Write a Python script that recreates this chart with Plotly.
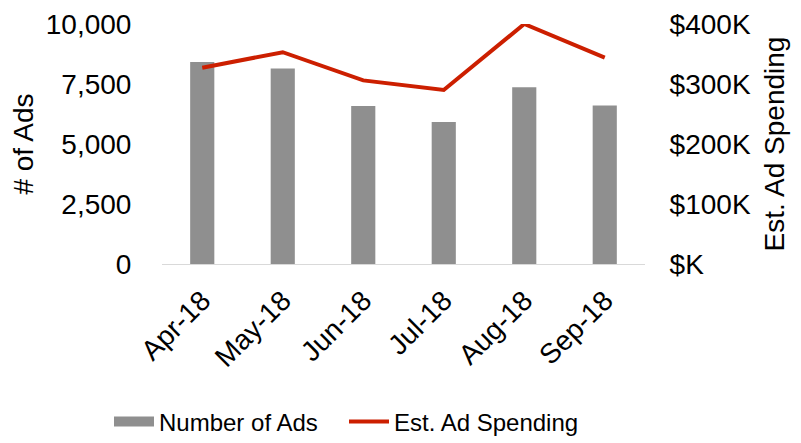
import plotly.graph_objects as go

months = ["Apr-18", "May-18", "Jun-18", "Jul-18", "Aug-18", "Sep-18"]
num_ads = [8420, 8150, 6580, 5920, 7360, 6600]
ad_spending = [327000, 353000, 306000, 290000, 400000, 344000]
left_ticks = [0, 2500, 5000, 7500, 10000]
right_ticks = [0, 100000, 200000, 300000, 400000]
right_ticktext = ["$K", "$100K", "$200K", "$300K", "$400K"]

FONT = "Liberation Sans, Arial, sans-serif"
CLEAR = "rgba(0,0,0,0)"
GRAY = "#8f8f8f"
RED = "#cc1f00"

# page body has an 8px margin, so the figure is drawn 8px in from the top-left
W, H = 793, 435

fig = go.Figure()
fig.add_trace(go.Bar(x=months, y=num_ads, name="Number of Ads", showlegend=False,
                     marker=dict(color=GRAY, line=dict(width=0)), yaxis="y"))
# legend-only entry to get a wide rectangular swatch for the bars
fig.add_trace(go.Scatter(x=[None], y=[None], name="Number of Ads", mode="lines",
                         line=dict(color=GRAY, width=15), yaxis="y"))
fig.add_trace(go.Scatter(x=months, y=ad_spending, name="Est. Ad Spending", mode="lines",
                         line=dict(color=RED, width=4), yaxis="y2"))

fig.update_layout(
    width=W, height=H,
    margin=dict(l=154, r=156, t=16, b=179),
    paper_bgcolor="white", plot_bgcolor="white",
    font=dict(family=FONT, size=28, color="#000000"),
    bargap=0.7,
    showlegend=True,
    legend=dict(orientation="h", xref="container", yref="container",
                x=101 / W, xanchor="left", y=1 - 414 / H, yanchor="middle",
                font=dict(size=24), itemwidth=40, entrywidth=180, entrywidthmode="pixels",
                traceorder="normal"),
    xaxis=dict(showgrid=False, showline=True, linecolor="#d9d9d9", linewidth=1,
               tickangle=-45, ticks="outside", ticklen=8, tickcolor=CLEAR,
               tickfont=dict(size=28), automargin=False),
    yaxis=dict(range=[0, 10000], tickvals=left_ticks, tickformat=",", showgrid=False,
               zeroline=False, showline=False, ticks="outside", ticklen=24, tickcolor=CLEAR,
               automargin=False,
               title=dict(text="# of Ads", font=dict(size=28), standoff=16),
               tickfont=dict(size=28)),
    yaxis2=dict(range=[0, 400000], overlaying="y", side="right", tickvals=right_ticks,
                ticktext=right_ticktext, showgrid=False, zeroline=False, showline=False,
                ticks="outside", ticklen=18, tickcolor=CLEAR, automargin=False,
                title=dict(text="Est. Ad Spending", font=dict(size=28), standoff=14),
                tickfont=dict(size=28)),
)

fig.write_html("out.html")
